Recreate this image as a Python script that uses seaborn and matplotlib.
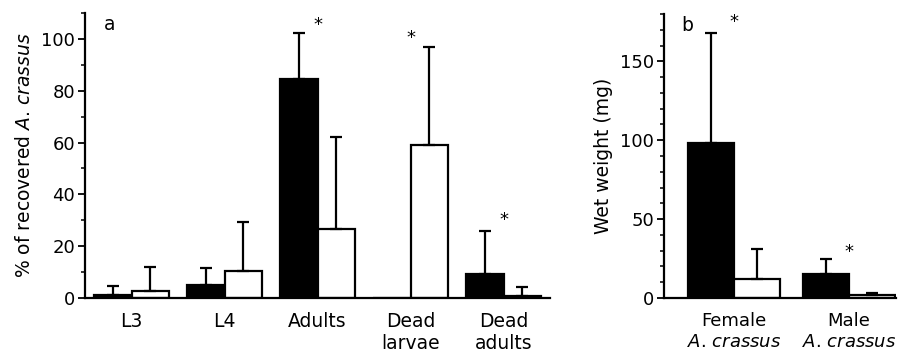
import matplotlib
matplotlib.use("Agg")
import matplotlib.pyplot as plt
import seaborn as sns
import pandas as pd
import numpy as np
from matplotlib.ticker import MultipleLocator

# ---- data panel a ----
stages = ["L3", "L4", "Adults", "Dead\nlarvae", "Dead\nadults"]
group_a_mean = [1.3, 4.9, 84.7, 0.0, 9.4]
group_a_upper = [4.5, 11.4, 102.3, 0.0, 25.7]
group_b_mean = [2.8, 10.3, 26.7, 59.2, 0.9]
group_b_upper = [11.8, 29.5, 62.3, 96.8, 4.2]
stars_a_pos = [2, 3, 4]
stars_a_y = [105.4, 100.4, 30.2]

# ---- data panel b ----
sexes = ["Female\n$\\mathit{A}$. $\\mathit{crassus}$", "Male\n$\\mathit{A}$. $\\mathit{crassus}$"]
wt_a_mean = [98.5, 15.2]
wt_a_upper = [167.7, 24.5]
wt_b_mean = [11.8, 1.7]
wt_b_upper = [30.8, 3.0]
stars_b_pos = [0, 1]
stars_b_y = [174.7, 29.0]

groups = ["Group A", "Group B"]

sns.set_theme(style="ticks")
plt.rcParams['font.family'] = ['DejaVu Sans']
plt.rcParams['mathtext.fontset'] = 'custom'
plt.rcParams['mathtext.it'] = 'DejaVu Sans:italic'
plt.rcParams['mathtext.rm'] = 'DejaVu Sans'
for k in ['text.color', 'axes.labelcolor', 'xtick.color', 'ytick.color', 'axes.edgecolor']:
    plt.rcParams[k] = 'black'

FS = 13.5

fig = plt.figure(figsize=(8.98, 3.56), dpi=100)
ax1 = fig.add_axes([85/898, 1-298/356, (550-85)/898, (298-13)/356])
ax2 = fig.add_axes([664/898, 1-298/356, (896-664)/898, (298-14)/356])


def draw(ax, cats, m1, u1, m2, u2, ylim, major, minor, capsize, xfs):
    df = pd.DataFrame({
        "cat": cats * 2,
        "val": m1 + m2,
        "grp": [groups[0]] * len(cats) + [groups[1]] * len(cats),
    })
    sns.barplot(data=df, x="cat", y="val", hue="grp", order=cats,
                palette=["black", "white"], edgecolor="black", linewidth=1.6,
                errorbar=None, width=0.8, legend=False, ax=ax, saturation=1)
    patches = [p for p in ax.patches]
    means = m1 + m2
    uppers = u1 + u2
    for p, m, u in zip(patches, means, uppers):
        if u <= m:
            continue
        xc = p.get_x() + p.get_width() / 2
        ax.errorbar([xc], [m], yerr=[[0], [u - m]], fmt="none", ecolor="black",
                    elinewidth=1.6, capsize=capsize, capthick=1.6, zorder=1)
    ax.set_ylim(*ylim)
    ax.yaxis.set_major_locator(MultipleLocator(major))
    ax.yaxis.set_minor_locator(MultipleLocator(minor))
    sns.despine(ax=ax)
    for s in ["left", "bottom"]:
        ax.spines[s].set_linewidth(1.6)
        ax.spines[s].set_color("black")
    ax.tick_params(axis="y", which="major", length=5, width=1.3, labelsize=13,
                   color="black", labelcolor="black", pad=2)
    ax.tick_params(axis="y", which="minor", length=3, width=1.1, color="black")
    ax.tick_params(axis="x", length=0, labelsize=xfs, labelcolor="black", pad=10)
    ax.set_xlabel("")


draw(ax1, stages, group_a_mean, group_a_upper, group_b_mean, group_b_upper,
     (0, 110), 20, 10, 4.5, FS)
ax1.set_xlim(-0.5, 4.5)
ax1.set_ylabel("% of recovered $\\mathit{A}$. $\\mathit{crassus}$", fontsize=FS, labelpad=5)
for xp, yp in zip(stars_a_pos, stars_a_y):
    ax1.text(xp, yp, "*", ha="center", va="center", fontsize=13)
ax1.text(0.054, 0.958, "a", transform=ax1.transAxes, fontsize=FS, ha="center", va="center")

draw(ax2, sexes, wt_a_mean, wt_a_upper, wt_b_mean, wt_b_upper,
     (0, 180), 50, 10, 4.5, 13)
ax2.set_xlim(-0.61, 1.41)
ax2.set_ylabel("Wet weight (mg)", fontsize=FS, labelpad=5)
for xp, yp in zip(stars_b_pos, stars_b_y):
    ax2.text(xp, yp, "*", ha="center", va="center", fontsize=13)
ax2.text(0.099, 0.961, "b", transform=ax2.transAxes, fontsize=FS, ha="center", va="center")

fig.savefig("out.png", dpi=100)
